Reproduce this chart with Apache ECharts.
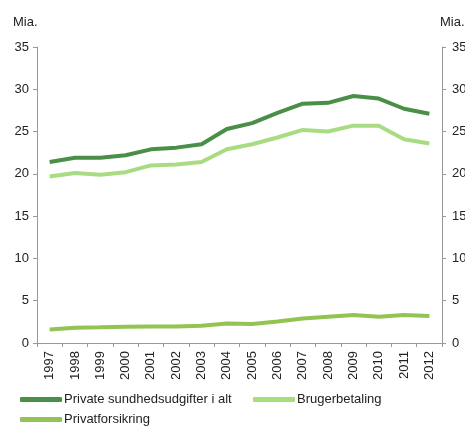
<!DOCTYPE html>
<html><head><meta charset="utf-8">
<script src="https://cdn.jsdelivr.net/npm/echarts@6/dist/echarts.min.js"></script>
<style>html,body{margin:0;padding:0;background:#fff}#c{width:465px;height:428px}</style>
</head><body><div id="c"></div>
<script>
const years = ['1997','1998','1999','2000','2001','2002','2003','2004','2005','2006','2007','2008','2009','2010','2011','2012'];
const total = [21.4,21.9,21.9,22.2,22.9,23.1,23.5,25.3,26.0,27.2,28.3,28.4,29.2,28.9,27.7,27.1];
const bruger = [19.7,20.1,19.9,20.2,21.0,21.1,21.4,22.9,23.5,24.3,25.2,25.0,25.7,25.7,24.1,23.6];
const forsikring = [1.6,1.8,1.85,1.93,1.95,1.95,2.05,2.3,2.25,2.55,2.9,3.1,3.3,3.1,3.3,3.2];
const names = ['Private sundhedsudgifter i alt','Brugerbetaling','Privatforsikring'];
const colors = ['#4a8f47','#a9dc82','#93c352'];

const font = {fontFamily:'Liberation Sans', fontSize:13, color:'#222'};
const axisY = (pos, margin, pad) => ({
  type:'value', position:pos, min:0, max:35, interval:5,
  name:'Mia.', nameLocation:'end', nameGap:18,
  nameTextStyle:Object.assign({}, font, {align:'left', padding:pad}),
  axisLine:{show:true, lineStyle:{color:'#999'}},
  axisTick:{show:true, length:4, lineStyle:{color:'#999'}},
  axisLabel:Object.assign({}, font, {margin:margin}),
  splitLine:{show:false}
});
const leg = (name, left, top) => ({
  data:[name], orient:'horizontal', left:left, top:top, itemWidth:42, itemHeight:5,
  icon:'roundRect', textStyle:Object.assign({}, font, {padding:[0,0,0,-3]})
});
const chart = echarts.init(document.getElementById('c'));
chart.setOption({
  animation:false,
  textStyle:{fontFamily:'Liberation Sans'},
  grid:{left:37, right:23, top:47, bottom:85, outerBoundsMode:'none', containLabel:false},
  xAxis:{type:'category', data:years, boundaryGap:true,
    axisLine:{lineStyle:{color:'#999'}},
    axisTick:{show:true, length:4, lineStyle:{color:'#999'}},
    axisLabel:Object.assign({}, font, {rotate:90, margin:8, interval:0})},
  yAxis:[axisY('left', 8, [0,0,0,-24]), axisY('right', 10, [0,0,0,-2])],
  legend:[leg(names[0], 15, 388), leg(names[1], 248, 388), leg(names[2], 15, 408)],
  series:[
    {name:names[0], type:'line', data:total, color:colors[0], symbol:'none', lineStyle:{width:4, color:colors[0]}},
    {name:names[1], type:'line', data:bruger, color:colors[1], symbol:'none', lineStyle:{width:4, color:colors[1]}},
    {name:names[2], type:'line', data:forsikring, color:colors[2], symbol:'none', lineStyle:{width:4, color:colors[2]}}
  ]
});
</script></body></html>
